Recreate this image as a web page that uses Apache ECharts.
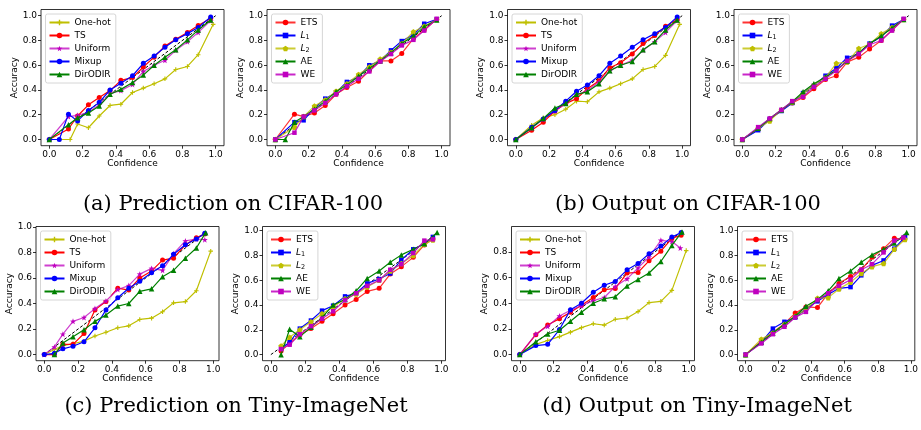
<!DOCTYPE html>
<html>
<head>
<meta charset="utf-8">
<script src="https://cdn.jsdelivr.net/npm/echarts@6/dist/echarts.min.js"></script>
<style>html,body{margin:0;background:#fff}#chart{width:921px;height:430px}</style>
</head>
<body>
<div id="chart"></div>
<script>
// reliability diagrams: [confidence, accuracy] per bin
const diagTop = [[0, 0], [1, 1]];
const diagBottom = [[0, 0], [0.95, 0.95]];

// (a) Prediction on CIFAR-100
const aOneHot = [[0,0],[0.065,0],[0.125,0],[0.17,0.125],[0.235,0.095],[0.3,0.19],[0.365,0.275],[0.43,0.285],[0.5,0.38],[0.565,0.415],[0.63,0.45],[0.695,0.49],[0.76,0.565],[0.83,0.59],[0.895,0.685],[0.985,0.93]];
const aTS = [[0,0],[0.115,0.085],[0.17,0.19],[0.235,0.28],[0.3,0.34],[0.365,0.395],[0.43,0.478],[0.5,0.5],[0.565,0.586],[0.63,0.665],[0.695,0.755],[0.76,0.81],[0.83,0.865],[0.895,0.92],[0.97,0.98]];
const aUniform = [[0,0],[0.115,0.185],[0.17,0.195],[0.235,0.22],[0.3,0.28],[0.365,0.37],[0.43,0.395],[0.5,0.445],[0.565,0.55],[0.63,0.6],[0.695,0.64],[0.76,0.72],[0.83,0.79],[0.895,0.865],[0.97,0.96]];
const aMixup = [[0,0],[0.06,0],[0.115,0.205],[0.17,0.15],[0.235,0.235],[0.3,0.3],[0.365,0.4],[0.43,0.455],[0.5,0.515],[0.565,0.615],[0.63,0.675],[0.695,0.745],[0.76,0.805],[0.83,0.855],[0.895,0.905],[0.97,0.99]];
const aDirODIR = [[0,0],[0.115,0.12],[0.17,0.175],[0.235,0.215],[0.3,0.27],[0.365,0.365],[0.43,0.405],[0.5,0.46],[0.565,0.52],[0.63,0.6],[0.695,0.665],[0.76,0.725],[0.83,0.805],[0.895,0.885],[0.97,0.965]];

// (b) Output on CIFAR-100
const bETS = [[0,0],[0.115,0.205],[0.17,0.185],[0.235,0.215],[0.3,0.275],[0.365,0.365],[0.43,0.42],[0.5,0.47],[0.565,0.555],[0.63,0.635],[0.695,0.635],[0.76,0.695],[0.83,0.815],[0.895,0.885],[0.97,0.97]];
const bL1 = [[0,0],[0.115,0.14],[0.17,0.155],[0.235,0.255],[0.3,0.33],[0.365,0.38],[0.43,0.465],[0.5,0.505],[0.565,0.6],[0.63,0.635],[0.695,0.72],[0.76,0.795],[0.83,0.845],[0.895,0.935],[0.97,0.97]];
const bL2 = [[0,0],[0.115,0.1],[0.17,0.185],[0.235,0.27],[0.3,0.32],[0.365,0.39],[0.43,0.45],[0.5,0.525],[0.565,0.585],[0.63,0.65],[0.695,0.705],[0.76,0.775],[0.83,0.87],[0.895,0.915],[0.97,0.97]];
const bAE = [[0,0],[0.06,0],[0.115,0.14],[0.17,0.185],[0.235,0.245],[0.3,0.31],[0.365,0.385],[0.43,0.44],[0.5,0.51],[0.565,0.575],[0.63,0.635],[0.695,0.7],[0.76,0.775],[0.83,0.835],[0.895,0.91],[0.97,0.965]];
const bWE = [[0,0],[0.115,0.055],[0.17,0.185],[0.235,0.235],[0.3,0.295],[0.365,0.365],[0.43,0.43],[0.5,0.49],[0.565,0.55],[0.63,0.63],[0.695,0.69],[0.76,0.76],[0.83,0.805],[0.895,0.88],[0.97,0.975]];

// (c) Prediction on Tiny-ImageNet, upper row right pair
const cOneHot = [[0,0],[0.095,0.115],[0.165,0.175],[0.235,0.2],[0.3,0.245],[0.365,0.31],[0.43,0.305],[0.5,0.385],[0.565,0.415],[0.63,0.45],[0.7,0.49],[0.765,0.565],[0.835,0.59],[0.9,0.68],[0.985,0.93]];
const cTS = [[0,0],[0.095,0.075],[0.165,0.14],[0.235,0.23],[0.3,0.29],[0.365,0.33],[0.43,0.41],[0.5,0.475],[0.565,0.58],[0.63,0.62],[0.7,0.69],[0.765,0.775],[0.835,0.84],[0.9,0.915],[0.97,0.97]];
const cUniform = [[0,0],[0.095,0.09],[0.165,0.165],[0.235,0.23],[0.3,0.29],[0.365,0.36],[0.43,0.395],[0.5,0.465],[0.565,0.555],[0.63,0.6],[0.7,0.64],[0.765,0.72],[0.835,0.79],[0.9,0.865],[0.97,0.96]];
const cMixup = [[0,0],[0.095,0.1],[0.165,0.165],[0.235,0.235],[0.3,0.31],[0.365,0.39],[0.43,0.44],[0.5,0.515],[0.565,0.615],[0.63,0.675],[0.7,0.745],[0.765,0.805],[0.835,0.855],[0.9,0.905],[0.97,0.99]];
const cDirODIR = [[0,0],[0.095,0.095],[0.165,0.17],[0.235,0.255],[0.3,0.29],[0.365,0.365],[0.43,0.385],[0.5,0.45],[0.565,0.555],[0.63,0.6],[0.7,0.63],[0.765,0.725],[0.835,0.79],[0.9,0.885],[0.97,0.965]];

const dETS = [[0,0],[0.095,0.08],[0.165,0.165],[0.235,0.235],[0.3,0.295],[0.365,0.34],[0.43,0.41],[0.5,0.485],[0.565,0.515],[0.63,0.625],[0.7,0.665],[0.765,0.73],[0.835,0.8],[0.9,0.885],[0.97,0.97]];
const dL1 = [[0,0],[0.095,0.075],[0.165,0.165],[0.235,0.23],[0.3,0.295],[0.365,0.375],[0.43,0.435],[0.5,0.515],[0.565,0.575],[0.63,0.66],[0.7,0.695],[0.765,0.775],[0.835,0.83],[0.9,0.92],[0.97,0.97]];
const dL2 = [[0,0],[0.095,0.09],[0.165,0.15],[0.235,0.24],[0.3,0.3],[0.365,0.37],[0.43,0.44],[0.5,0.5],[0.565,0.615],[0.63,0.625],[0.7,0.735],[0.765,0.77],[0.835,0.855],[0.9,0.905],[0.97,0.97]];
const dAE = [[0,0],[0.095,0.09],[0.165,0.17],[0.235,0.24],[0.3,0.305],[0.365,0.385],[0.43,0.45],[0.5,0.505],[0.565,0.56],[0.63,0.635],[0.7,0.7],[0.765,0.775],[0.835,0.835],[0.9,0.9],[0.97,0.97]];
const dWE = [[0,0],[0.095,0.1],[0.165,0.17],[0.235,0.24],[0.3,0.31],[0.365,0.345],[0.43,0.425],[0.5,0.49],[0.565,0.555],[0.63,0.635],[0.7,0.69],[0.765,0.765],[0.835,0.8],[0.9,0.88],[0.97,0.975]];

// lower row
const eOneHot = [[0,0],[0.06,0.04],[0.11,0.07],[0.17,0.085],[0.235,0.105],[0.3,0.145],[0.365,0.175],[0.435,0.21],[0.5,0.225],[0.565,0.275],[0.635,0.285],[0.7,0.335],[0.765,0.405],[0.835,0.415],[0.9,0.5],[0.985,0.81]];
const eTS = [[0,0],[0.06,0],[0.11,0.08],[0.17,0.08],[0.235,0.165],[0.3,0.35],[0.365,0.415],[0.435,0.52],[0.5,0.505],[0.565,0.6],[0.635,0.655],[0.7,0.74],[0.765,0.755],[0.835,0.86],[0.9,0.915],[0.95,0.945]];
const eUniform = [[0,0],[0.06,0.06],[0.11,0.16],[0.17,0.26],[0.235,0.29],[0.3,0.36],[0.365,0.42],[0.435,0.51],[0.5,0.54],[0.565,0.63],[0.635,0.675],[0.7,0.66],[0.765,0.79],[0.835,0.89],[0.9,0.905],[0.95,0.9]];
const eMixup = [[0,0],[0.06,0.01],[0.11,0.045],[0.17,0.065],[0.235,0.1],[0.3,0.21],[0.365,0.35],[0.435,0.445],[0.5,0.52],[0.565,0.575],[0.635,0.64],[0.7,0.695],[0.765,0.785],[0.835,0.86],[0.9,0.905],[0.95,0.95]];
const eDirODIR = [[0.06,0],[0.11,0.09],[0.17,0.14],[0.235,0.195],[0.3,0.26],[0.365,0.31],[0.435,0.38],[0.5,0.4],[0.565,0.495],[0.635,0.515],[0.7,0.61],[0.765,0.66],[0.835,0.755],[0.9,0.835],[0.955,0.955]];

const fETS = [[0.06,0.03],[0.11,0.09],[0.17,0.16],[0.235,0.21],[0.3,0.27],[0.365,0.33],[0.435,0.4],[0.5,0.445],[0.565,0.51],[0.635,0.535],[0.7,0.65],[0.765,0.71],[0.835,0.785],[0.9,0.885],[0.95,0.935]];
const fL1 = [[0.06,0.05],[0.11,0.1],[0.17,0.21],[0.235,0.275],[0.3,0.355],[0.365,0.395],[0.435,0.47],[0.5,0.495],[0.565,0.575],[0.635,0.61],[0.7,0.655],[0.765,0.765],[0.835,0.85],[0.9,0.895],[0.95,0.95]];
const fL2 = [[0.06,0.07],[0.11,0.14],[0.17,0.2],[0.235,0.265],[0.3,0.33],[0.365,0.385],[0.435,0.45],[0.5,0.49],[0.565,0.545],[0.635,0.6],[0.7,0.675],[0.765,0.735],[0.835,0.8],[0.9,0.89],[0.95,0.925]];
const fAE = [[0.06,0],[0.11,0.205],[0.17,0.145],[0.235,0.22],[0.3,0.3],[0.365,0.4],[0.435,0.445],[0.5,0.515],[0.565,0.615],[0.635,0.675],[0.7,0.745],[0.765,0.805],[0.835,0.85],[0.9,0.895],[0.975,0.985]];
const fWE = [[0.06,0.045],[0.11,0.08],[0.17,0.165],[0.235,0.23],[0.3,0.29],[0.365,0.35],[0.435,0.44],[0.5,0.495],[0.565,0.555],[0.635,0.6],[0.7,0.685],[0.765,0.73],[0.835,0.82],[0.9,0.92],[0.95,0.93]];

const gOneHot = [[0,0],[0.095,0.08],[0.165,0.11],[0.235,0.14],[0.3,0.175],[0.365,0.21],[0.435,0.24],[0.5,0.23],[0.565,0.275],[0.635,0.285],[0.7,0.335],[0.765,0.405],[0.835,0.415],[0.9,0.5],[0.985,0.81]];
const gTS = [[0,0],[0.095,0.155],[0.165,0.23],[0.235,0.28],[0.3,0.33],[0.365,0.385],[0.435,0.445],[0.5,0.505],[0.565,0.515],[0.635,0.635],[0.7,0.64],[0.765,0.73],[0.835,0.805],[0.9,0.905],[0.955,0.93]];
const gUniform = [[0,0],[0.095,0.16],[0.165,0.22],[0.235,0.3],[0.3,0.345],[0.365,0.38],[0.435,0.42],[0.5,0.445],[0.565,0.53],[0.635,0.59],[0.7,0.675],[0.765,0.76],[0.835,0.89],[0.9,0.88],[0.95,0.83]];
const gMixup = [[0,0],[0.095,0.07],[0.165,0.08],[0.235,0.195],[0.3,0.35],[0.365,0.4],[0.435,0.485],[0.5,0.54],[0.565,0.57],[0.635,0.66],[0.7,0.71],[0.765,0.785],[0.835,0.845],[0.9,0.915],[0.955,0.95]];
const gDirODIR = [[0,0],[0.095,0.1],[0.165,0.16],[0.235,0.19],[0.3,0.26],[0.365,0.33],[0.435,0.4],[0.5,0.435],[0.565,0.45],[0.635,0.535],[0.7,0.585],[0.765,0.635],[0.835,0.725],[0.9,0.85],[0.96,0.955]];

const hETS = [[0,0],[0.095,0.11],[0.165,0.18],[0.235,0.25],[0.3,0.335],[0.365,0.385],[0.435,0.38],[0.5,0.495],[0.565,0.575],[0.635,0.63],[0.7,0.685],[0.765,0.785],[0.835,0.855],[0.9,0.94],[0.955,0.93]];
const hL1 = [[0,0],[0.095,0.1],[0.165,0.21],[0.235,0.265],[0.3,0.3],[0.365,0.37],[0.435,0.43],[0.5,0.485],[0.565,0.535],[0.635,0.545],[0.7,0.64],[0.765,0.72],[0.835,0.76],[0.9,0.855],[0.965,0.95]];
const hL2 = [[0,0],[0.095,0.125],[0.165,0.175],[0.235,0.245],[0.3,0.31],[0.365,0.365],[0.435,0.455],[0.5,0.46],[0.565,0.53],[0.635,0.585],[0.7,0.655],[0.765,0.71],[0.835,0.735],[0.9,0.85],[0.965,0.93]];
const hAE = [[0,0],[0.095,0.1],[0.165,0.175],[0.235,0.245],[0.3,0.31],[0.365,0.39],[0.435,0.445],[0.5,0.515],[0.565,0.615],[0.635,0.675],[0.7,0.745],[0.765,0.805],[0.835,0.85],[0.9,0.9],[0.975,0.985]];
const hWE = [[0,0],[0.095,0.09],[0.165,0.165],[0.235,0.225],[0.3,0.3],[0.365,0.345],[0.435,0.44],[0.5,0.495],[0.565,0.555],[0.635,0.605],[0.7,0.685],[0.765,0.73],[0.835,0.825],[0.9,0.92],[0.955,0.945]];

const tickValues = [0, 0.2, 0.4, 0.6, 0.8, 1.0];
const tickValuesShort = [0, 0.2, 0.4, 0.6, 0.8];
const captions = ['(a) Prediction on CIFAR-100', '(b) Output on CIFAR-100', '(c) Prediction on Tiny-ImageNet', '(d) Output on Tiny-ImageNet'];
const lossNames = ['One-hot', 'TS', 'Uniform', 'Mixup', 'DirODIR'];
const weightNames = ['ETS', 'L1', 'L2', 'AE', 'WE'];

const plots = [
  { data: [aOneHot, aTS, aUniform, aMixup, aDirODIR], names: lossNames, diag: diagTop },
  { data: [bETS, bL1, bL2, bAE, bWE], names: weightNames, diag: diagTop },
  { data: [cOneHot, cTS, cUniform, cMixup, cDirODIR], names: lossNames, diag: diagTop },
  { data: [dETS, dL1, dL2, dAE, dWE], names: weightNames, diag: diagTop },
  { data: [eOneHot, eTS, eUniform, eMixup, eDirODIR], names: lossNames, diag: diagBottom },
  { data: [fETS, fL1, fL2, fAE, fWE], names: weightNames, diag: diagBottom },
  { data: [gOneHot, gTS, gUniform, gMixup, gDirODIR], names: lossNames, diag: diagBottom },
  { data: [hETS, hL1, hL2, hAE, hWE], names: weightNames, diag: diagBottom },
];

// frame boxes and axis limits (matplotlib autoscale margins)
const boxes = [
  { left: 41, top: 9.5, x: [-0.05, 1.05], y: [-0.05, 1.05] },
  { left: 267, top: 9.5, x: [-0.05, 1.05], y: [-0.05, 1.05] },
  { left: 507.5, top: 9.5, x: [-0.05, 1.05], y: [-0.05, 1.05] },
  { left: 734, top: 9.5, x: [-0.05, 1.05], y: [-0.05, 1.05] },
  { left: 36, top: 226.5, x: [-0.049, 1.034], y: [-0.048, 1.003] },
  { left: 262.5, top: 226.5, x: [-0.049, 1.024], y: [-0.049, 1.034] },
  { left: 511.5, top: 226.5, x: [-0.049, 1.034], y: [-0.0475, 0.9975] },
  { left: 737.5, top: 226.5, x: [-0.049, 1.024], y: [-0.049, 1.034] },
];
const boxW = 183;
const boxH = [136.2, 136.2, 136.2, 136.2, 134.2, 134.2, 134.2, 134.2];

const FONT = 'DejaVu Sans';
const PLUS = 'path://M-1,-4H1V-1H4V1H1V4H-1V1H-4V-1H-1Z';
const STAR = 'path://M0,-10L2.35,-3.24L9.51,-3.09L3.8,1.24L5.88,8.09L0,4L-5.88,8.09L-3.8,1.24L-9.51,-3.09L-2.35,-3.24Z';
const PENTA = 'path://M0,-10L9.51,-3.09L5.88,8.09L-5.88,8.09L-9.51,-3.09Z';

const look = {
  'One-hot': { color: '#bfbf00', symbol: PLUS, size: 4.5, alpha: 1 },
  'TS': { color: '#ff0000', symbol: 'circle', size: 5, alpha: 1 },
  'Uniform': { color: '#bf00bf', symbol: STAR, size: 6, alpha: 0.75 },
  'Mixup': { color: '#0000ff', symbol: 'circle', size: 5, alpha: 1 },
  'DirODIR': { color: '#008000', symbol: 'triangle', size: 5.5, alpha: 1 },
  'ETS': { color: '#ff0000', symbol: 'circle', size: 5, alpha: 0.8 },
  'L1': { color: '#0000ff', symbol: 'rect', size: 4.5, alpha: 1 },
  'L2': { color: '#bfbf00', symbol: PENTA, size: 5.5, alpha: 0.8 },
  'AE': { color: '#008000', symbol: 'triangle', size: 5.5, alpha: 1 },
  'WE': { color: '#bf00bf', symbol: 'rect', size: 4.5, alpha: 0.85 },
};

const grid = [], xAxis = [], yAxis = [], series = [], legend = [];
plots.forEach((p, i) => {
  const b = boxes[i];
  grid.push({ left: b.left, top: b.top, width: boxW, height: boxH[i], show: true,
    borderColor: '#000', borderWidth: 0.8, backgroundColor: 'transparent' });
  const yTicks = b.y[1] >= 1 ? tickValues : tickValuesShort;
  const axisCommon = {
    type: 'value', gridIndex: i, nameLocation: 'middle',
    nameTextStyle: { fontSize: 9, fontFamily: FONT, color: '#000' },
    axisLine: { show: false, onZero: false },
    splitLine: { show: false },
  };
  xAxis.push(Object.assign({}, axisCommon, {
    min: b.x[0], max: b.x[1], name: 'Confidence', nameGap: 13,
    axisTick: { show: true, length: 3, customValues: tickValues, lineStyle: { color: '#000', width: 0.8 } },
    axisLabel: { customValues: tickValues, formatter: v => v.toFixed(1), fontSize: 9, fontFamily: FONT, color: '#000', margin: 4 },
  }));
  yAxis.push(Object.assign({}, axisCommon, {
    min: b.y[0], max: b.y[1], name: 'Accuracy', nameGap: 19,
    axisTick: { show: true, length: 3, customValues: yTicks, lineStyle: { color: '#000', width: 0.8 } },
    axisLabel: { customValues: yTicks, formatter: v => v.toFixed(1), fontSize: 9, fontFamily: FONT, color: '#000', margin: 4 },
  }));
  series.push({
    type: 'line', name: 'diag' + i, xAxisIndex: i, yAxisIndex: i, data: p.diag,
    showSymbol: false, lineStyle: { color: '#000', width: 1, type: [3, 2] }, z: 1, silent: true,
  });
  p.names.forEach((name, k) => {
    const s = look[name];
    series.push({
      type: 'line', name, xAxisIndex: i, yAxisIndex: i, data: p.data[k],
      symbol: s.symbol, symbolSize: s.size, showSymbol: true,
      itemStyle: { color: s.color },
      lineStyle: { color: s.color, width: 1.2, opacity: s.alpha },
      z: 2 + k,
    });
  });
  legend.push({
    orient: 'vertical', left: b.left + 4.5, top: b.top + 4.5, data: p.names,
    itemWidth: 20, itemHeight: 7, itemGap: 2, padding: [3, 5, 3, 3],
    borderColor: '#cccccc', borderWidth: 0.8, borderRadius: 2,
    backgroundColor: 'rgba(255,255,255,0.8)', selectedMode: false,
    textStyle: {
      fontSize: 9, fontFamily: FONT, color: '#000', lineHeight: 11,
      rich: {
        it: { fontStyle: 'italic', fontSize: 9, fontFamily: FONT, lineHeight: 11 },
        sub: { fontSize: 6.5, fontFamily: FONT, lineHeight: 11, verticalAlign: 'bottom', padding: [3, 0, 0, 0] },
      },
    },
    formatter: n => (n === 'L1' || n === 'L2') ? '{it|L}{sub|' + n.slice(1) + '}' : n,
  });
});

const capPos = [[233, 205], [688, 205], [236, 407], [697, 407]];
const graphic = captions.map((t, i) => ({
  type: 'text', x: capPos[i][0], y: capPos[i][1],
  style: { text: t, fontSize: 21, fontFamily: 'DejaVu Serif', fill: '#000', align: 'center', verticalAlign: 'middle' },
}));

const chart = echarts.init(document.getElementById('chart'));
chart.setOption({
  animation: false, backgroundColor: '#fff',
  grid, xAxis, yAxis, series, legend, graphic,
});
</script>
</body>
</html>
